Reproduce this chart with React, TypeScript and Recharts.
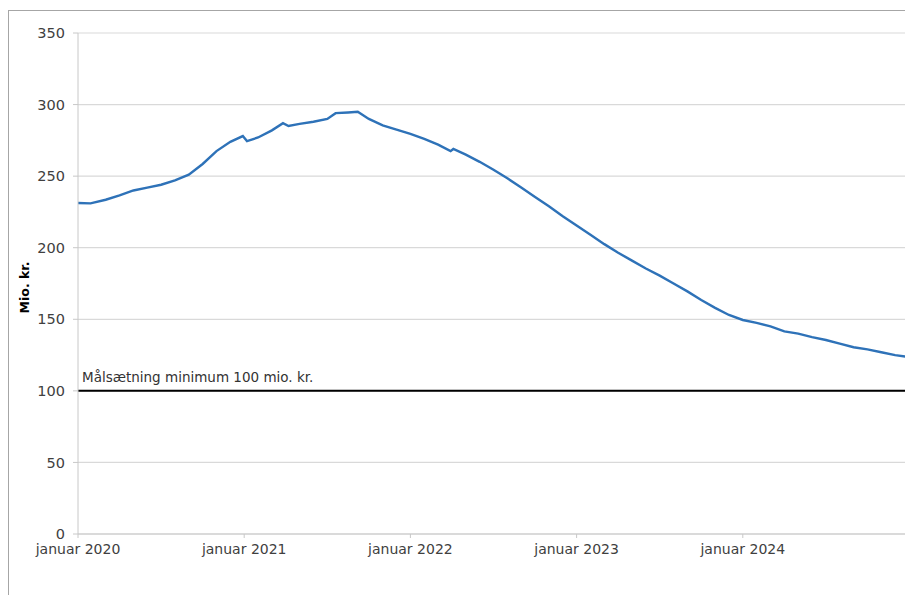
import React from 'react';
import { LineChart, Line, XAxis, YAxis, CartesianGrid, ReferenceLine } from 'recharts';

// months since January 2020
const monthOffsets = [
  0, 0.9, 2, 3, 4, 5, 6, 7, 8, 9, 10, 11, 11.9, 12.2, 13, 14, 14.8, 15.2, 16, 17, 18, 18.6, 19.5, 20.2,
  21, 22, 23, 24, 25, 26, 26.9, 27.1, 28, 29, 30, 31, 32, 33, 34, 35, 36, 37, 38, 39, 40, 41, 42, 43,
  44, 45, 46, 47, 48, 49, 50, 51, 52, 53, 54, 55, 56, 57, 58, 59, 60,
];
const balance = [
  231.2, 231, 233.5, 236.5, 240, 242, 244, 247, 251, 258.5, 267.5, 274, 278, 274.5, 277, 282, 287, 285,
  286.5, 288, 290, 294, 294.5, 295, 290, 285.5, 282.5, 279.5, 276, 272, 267.5, 269, 265, 260, 254.5,
  248.5, 242, 235.5, 229, 222, 215.5, 209, 202.5, 196.5, 191, 185.5, 180.5, 175, 169.5, 163.5, 158,
  153, 149.5, 147.5, 145, 141.5, 140, 137.5, 135.5, 133, 130.5, 129, 127, 125, 123.6,
];
const xTicks = [0, 12, 24, 36, 48, 60];
const xTickLabels = ['januar 2020', 'januar 2021', 'januar 2022', 'januar 2023', 'januar 2024', ''];
const yTicks = [0, 50, 100, 150, 200, 250, 300, 350];
const targetValue = 100;
const targetLabel = 'Målsætning minimum 100 mio. kr.';
const yAxisTitle = 'Mio. kr.';

const data = monthOffsets.map((m, i) => ({ m, v: balance[i] }));

const FONT = '"DejaVu Sans", Verdana, sans-serif';

export default function App() {
  return (
    <div style={{ position: 'relative', width: 905, height: 587, fontFamily: FONT }}>
      <div
        style={{
          position: 'absolute',
          left: 0,
          top: 2,
          width: 904,
          height: 584,
          borderLeft: '1px solid #a6a6a6',
          borderTop: '1px solid #a6a6a6',
          pointerEvents: 'none',
        }}
      />
      <LineChart width={905} height={587} data={data} margin={{ top: 25, right: 4, bottom: 31, left: 0 }}>
        <CartesianGrid vertical={false} stroke="#d9d9d9" strokeWidth={1.2} />
        <XAxis
          dataKey="m"
          type="number"
          domain={[0, 60]}
          ticks={xTicks}
          tickFormatter={(v: number) => xTickLabels[xTicks.indexOf(v)] ?? ''}
          stroke="#c8c8c8"
          tickSize={4}
          tickMargin={6}
          tick={{ fill: '#404040', fontSize: 14, fontFamily: FONT }}
          height={30}
          interval={0}
        />
        <YAxis
          type="number"
          domain={[0, 350]}
          ticks={yTicks}
          width={70}
          stroke="#c8c8c8"
          tickSize={5}
          tickMargin={8}
          tick={{ fill: '#404040', fontSize: 14.5, fontFamily: FONT }}
          label={{
            content: (props: any) => {
              const vb = props.viewBox || {};
              return (
                <text
                  x={vb.x + 16}
                  y={vb.y + vb.height / 2 + 4}
                  transform={`rotate(-90, ${vb.x + 16}, ${vb.y + vb.height / 2 + 4})`}
                  textAnchor="middle"
                  dominantBaseline="central"
                  fontFamily={FONT}
                  fontWeight="bold"
                  fontSize={12.5}
                  fill="#000"
                >
                  {yAxisTitle}
                </text>
              );
            },
          }}
        />
        <ReferenceLine
          y={targetValue}
          stroke="#000"
          strokeWidth={2}
          label={{
            content: (props: any) => {
              const vb = props.viewBox || {};
              return (
                <text x={vb.x + 4} y={vb.y - 9} fontFamily={FONT} fontSize={13.5} fill="#333">
                  {targetLabel}
                </text>
              );
            },
          }}
        />
        <Line
          type="linear"
          dataKey="v"
          stroke="#2e72b8"
          strokeWidth={2.4}
          dot={false}
          isAnimationActive={false}
        />
      </LineChart>
    </div>
  );
}
